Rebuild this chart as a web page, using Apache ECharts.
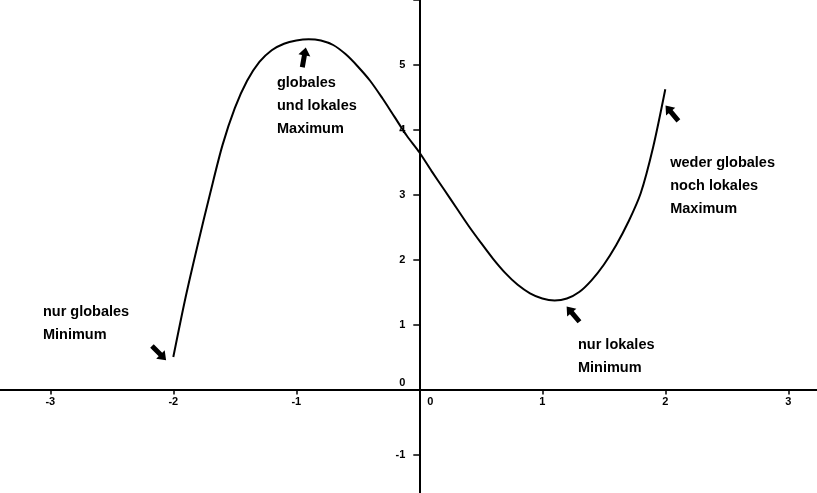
<!DOCTYPE html>
<html lang="de">

<head>
  <meta charset="UTF-8">
  <title>Globale und lokale Extrema</title>
  <style>
    html,
    body {
      margin: 0;
      padding: 0;
      overflow: hidden;
      background: #fff;
    }

    #chart {
      width: 817px;
      height: 493px;
    }
  </style>
</head>

<body>
  <div id="chart"></div>
</body>
<script src="https://cdn.jsdelivr.net/npm/echarts@6/dist/echarts.min.js"></script>
<script>
  const xs = [-2.0, -1.9, -1.8, -1.7, -1.6, -1.5, -1.4, -1.3, -1.2, -1.1, -1.0,
    -0.9, -0.8, -0.7, -0.6, -0.5, -0.4, -0.3, -0.2, -0.1, 0.0,
    0.1, 0.2, 0.3, 0.4, 0.5, 0.6, 0.7, 0.8, 0.9, 1.0,
    1.1, 1.2, 1.3, 1.4, 1.5, 1.6, 1.7, 1.8, 1.9, 2.0];
  const ys = [0.50, 1.42, 2.24, 3.02, 3.76, 4.33, 4.75, 5.04, 5.22, 5.32, 5.37,
    5.39, 5.37, 5.30, 5.16, 4.97, 4.75, 4.48, 4.19, 3.90, 3.65,
    3.36, 3.08, 2.80, 2.52, 2.26, 2.01, 1.79, 1.61, 1.48, 1.40,
    1.37, 1.40, 1.50, 1.68, 1.92, 2.22, 2.58, 3.02, 3.72, 4.62];

  // Beschriftungen
  const notes = [
    'nur globales\nMinimum',
    'globales\nund lokales\nMaximum',
    'weder globales\nnoch lokales\nMaximum',
    'nur lokales\nMinimum'
  ];
  const noteAt = [[-3.06, 1.37], [-1.157, 4.89], [2.04, 3.66], [1.29, 0.86]];

  // Pfeile: Lage und Drehung
  const arrowAt = [[-2.116, 0.56], [-0.937, 5.11], [1.25, 1.16], [2.054, 4.25]];
  const arrowRot = [-135, -10, 40, 40];

  const font = 'Liberation Sans';
  const arrowPath = 'path://M0,8 L6,0 L12,8 L8.5,8 L8.5,20 L3.5,20 L3.5,8 Z';

  const myChart = echarts.init(document.querySelector('#chart'));

  const curve = xs.map(function (x, i) { return [x, ys[i]]; });

  const markData = [];
  notes.forEach(function (t, i) {
    markData.push({
      coord: noteAt[i],
      symbol: 'circle',
      symbolSize: 0,
      label: {
        show: true,
        formatter: t,
        position: [0, 0],
        align: 'left',
        verticalAlign: 'top',
        color: '#000',
        fontFamily: font,
        fontWeight: 'bold',
        fontSize: 14.5,
        lineHeight: 23
      }
    });
  });
  arrowAt.forEach(function (c, i) {
    markData.push({
      coord: c,
      symbol: arrowPath,
      symbolSize: [12, 20],
      symbolRotate: arrowRot[i],
      itemStyle: { color: '#000' },
      label: { show: false }
    });
  });

  const axisLabelStyle = {
    color: '#000',
    fontFamily: font,
    fontWeight: 'bold',
    fontSize: 11
  };

  // 0 wird neben die Achse geschoben, Werte ausserhalb des Bildes bleiben leer
  function tickText(v) {
    if (v === 0) return '{z|0}';
    if (v > 5) return '';
    return String(v);
  }

  // Achsen kreuzen sich im Ursprung: x=0 bei 419.3px, y=0 bei 389.5px
  const option = {
    animation: false,
    backgroundColor: '#fff',
    grid: {
      left: -72.7,
      right: -94.3,
      top: -0.5,
      bottom: -26.5,
      containLabel: false,
      outerBoundsMode: 'none'
    },
    xAxis: {
      type: 'value',
      min: -4,
      max: 4,
      interval: 1,
      position: 'bottom',
      offset: -130,
      splitLine: { show: false },
      axisLine: { onZero: false, lineStyle: { color: '#000', width: 2 } },
      axisTick: { show: true, length: 5, lineStyle: { color: '#000', width: 1.5 } },
      axisLabel: Object.assign({}, axisLabelStyle, {
        margin: 7,
        formatter: tickText,
        rich: { z: Object.assign({}, axisLabelStyle, { padding: [0, 0, 0, 22] }) }
      })
    },
    yAxis: {
      type: 'value',
      min: -2,
      max: 6,
      interval: 1,
      position: 'left',
      offset: -492,
      splitLine: { show: false },
      axisLine: { onZero: false, lineStyle: { color: '#000', width: 2 } },
      axisTick: { show: true, length: 6, lineStyle: { color: '#000', width: 1.5 } },
      axisLabel: Object.assign({}, axisLabelStyle, {
        margin: 14,
        formatter: tickText,
        rich: { z: Object.assign({}, axisLabelStyle, { padding: [0, 0, 14, 0] }) }
      })
    },
    series: [{
      type: 'line',
      data: curve,
      smooth: 0.3,
      showSymbol: false,
      lineStyle: { color: '#000', width: 2 },
      markPoint: {
        silent: true,
        data: markData
      }
    }]
  };

  myChart.setOption(option);
</script>

</html>
